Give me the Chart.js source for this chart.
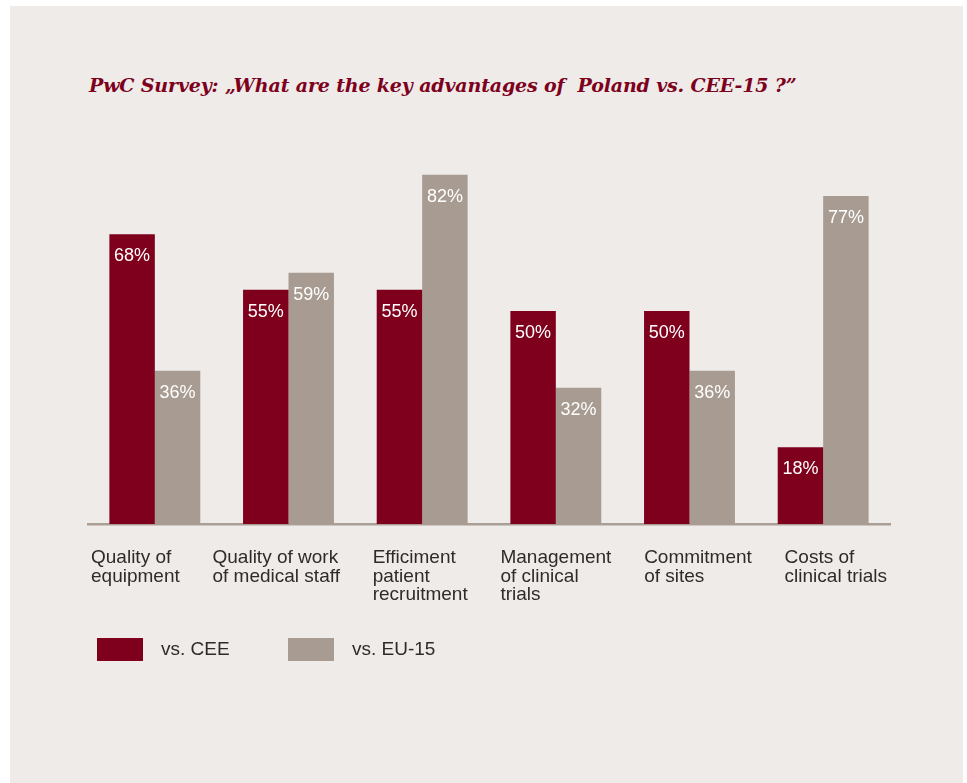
<!DOCTYPE html>
<html>
<head>
<meta charset="utf-8">
<script src="https://cdn.jsdelivr.net/npm/chart.js@4/dist/chart.umd.min.js"></script>
<style>
  html, body { margin: 0; padding: 0; background: #ffffff; }
  #panel { position: absolute; left: 10px; top: 6px; width: 953px; height: 777px; background: #eeebe8; }
  #title {
    position: absolute; left: 89px; top: 74px; white-space: pre; letter-spacing: -0.15px;
    font: italic bold 19px "DejaVu Serif", serif; color: #7d001c;
  }
  #wrap { position: absolute; left: 0; top: 0; width: 967px; height: 783px; }
</style>
</head>
<body>
<div id="panel"></div>
<div id="title">PwC Survey: „What are the key advantages of  Poland vs. CEE-15 ?”</div>
<div id="wrap"><canvas id="chart" width="967" height="783"></canvas></div>
<script>
'use strict';

// ---------- data ----------
const categories = [
  ['Quality of', 'equipment'],
  ['Quality of work', 'of medical staff'],
  ['Efficiment', 'patient', 'recruitment'],
  ['Management', 'of clinical', 'trials'],
  ['Commitment', 'of sites'],
  ['Costs of', 'clinical trials'],
];
const seriesNames = ['vs. CEE', 'vs. EU-15'];
const vsCEE = [68, 55, 55, 50, 50, 18];
const vsEU15 = [36, 59, 82, 32, 36, 77];

const COLORS = { cee: '#7e001c', eu: '#a89c92', axis: '#aa9f97', text: '#2e2b2b' };
const SANS = '"Liberation Sans", Arial, sans-serif';

// value labels inside top of each bar
const valueLabels = {
  id: 'valueLabels',
  afterDatasetsDraw(chart) {
    const ctx = chart.ctx;
    ctx.save();
    ctx.font = '18px ' + SANS;
    ctx.fillStyle = '#ffffff';
    ctx.textAlign = 'center';
    ctx.textBaseline = 'alphabetic';
    chart.data.datasets.forEach((ds, di) => {
      chart.getDatasetMeta(di).data.forEach((bar, i) => {
        ctx.fillText(ds.data[i] + '%', bar.x, bar.y + 27);
      });
    });
    ctx.restore();
  },
};

// category labels, left aligned blocks spread across the axis
const categoryLabels = {
  id: 'categoryLabels',
  afterDraw(chart) {
    const ctx = chart.ctx;
    const x = chart.scales.x;
    ctx.save();
    ctx.font = '19px ' + SANS;
    ctx.fillStyle = COLORS.text;
    ctx.textAlign = 'left';
    ctx.textBaseline = 'alphabetic';
    const widths = categories.map((lines) => Math.max(...lines.map((l) => ctx.measureText(l).width)));
    const left = x.left + 3, right = x.right - 3;
    const gap = (right - left - widths.reduce((s, w) => s + w, 0)) / (categories.length - 1);
    let cx = left;
    categories.forEach((lines, i) => {
      lines.forEach((line, j) => ctx.fillText(line, cx, chart.chartArea.bottom + 39 + j * 18.5));
      cx += widths[i] + gap;
    });
    ctx.restore();
  },
};

// legend below the labels
const legendBoxes = {
  id: 'legendBoxes',
  afterDraw(chart) {
    const ctx = chart.ctx;
    ctx.save();
    ctx.font = '19px ' + SANS;
    ctx.textBaseline = 'alphabetic';
    chart.data.datasets.forEach((ds, i) => {
      const bx = 97 + i * 191;
      ctx.fillStyle = ds.backgroundColor;
      ctx.fillRect(bx, 638, 46, 23);
      ctx.fillStyle = COLORS.text;
      ctx.fillText(ds.label, bx + 64, 655);
    });
    ctx.restore();
  },
};

new Chart(document.getElementById('chart'), {
  type: 'bar',
  data: {
    labels: categories,
    datasets: [
      { label: seriesNames[0], data: vsCEE, backgroundColor: COLORS.cee },
      { label: seriesNames[1], data: vsEU15, backgroundColor: COLORS.eu },
    ],
  },
  options: {
    responsive: false,
    animation: false,
    events: [],
    categoryPercentage: 0.68,
    barPercentage: 1,
    layout: { padding: { left: 88, right: 77, top: 98, bottom: 251 } },
    scales: {
      x: {
        grid: { display: false },
        ticks: { display: false },
        border: { display: true, color: COLORS.axis, width: 2.5 },
      },
      y: { display: false, min: 0, max: 100 },
    },
    plugins: {
      legend: { display: false },
      tooltip: { enabled: false },
    },
  },
  plugins: [valueLabels, categoryLabels, legendBoxes],
});
</script>
</body>
</html>
